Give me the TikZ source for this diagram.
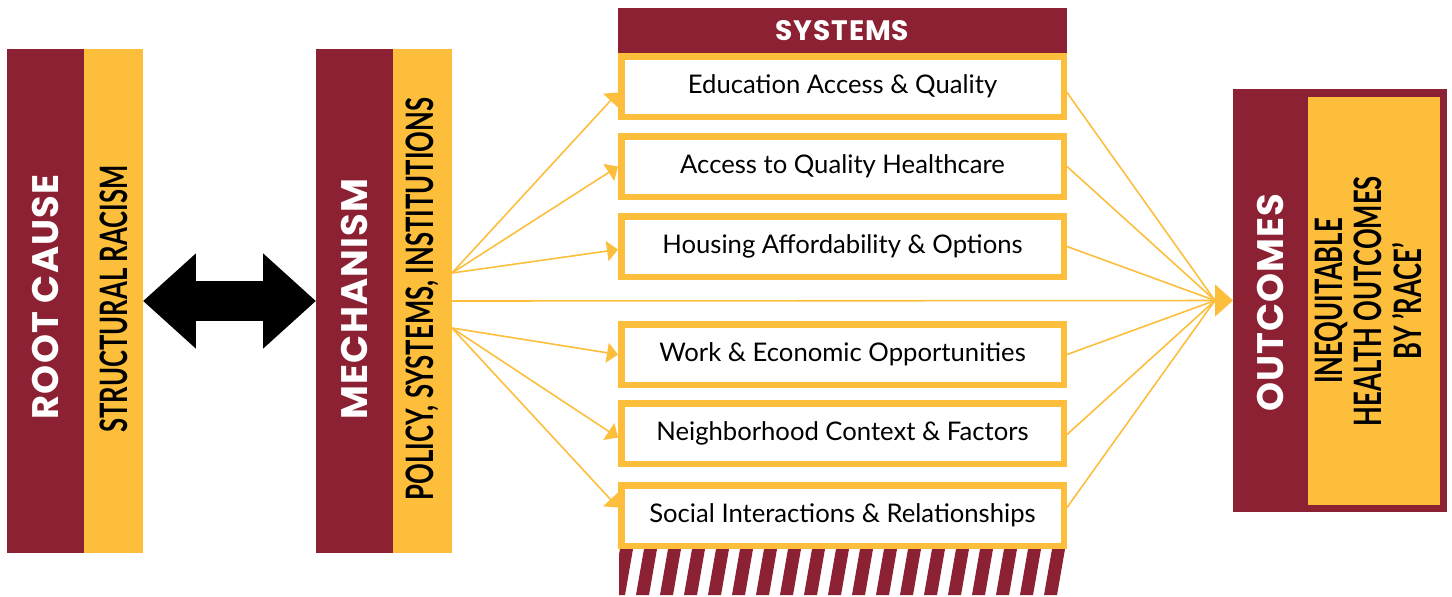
\documentclass[tikz,border=0pt]{standalone}
\usepackage{fontspec}
\setmainfont{Lato}
\newfontfamily\headfont{Poppins}[LetterSpace=3]
\newfontfamily\narrowfont{Lato}[FakeStretch=0.68]
\usetikzlibrary{positioning,calc,arrows.meta}

\definecolor{maroon}{HTML}{8B2132}
\definecolor{gold}{HTML}{FDBE3B}
\def\pxu{0.02cm}

\tikzset{
  redbar/.style={fill=maroon, inner sep=0pt, outer sep=0pt, text=white,
    font=\headfont\bfseries\fontsize{21}{25}\selectfont},
  goldbar/.style={fill=gold, inner sep=0pt, outer sep=0pt,
    font=\narrowfont\bfseries\fontsize{21.5}{23}\selectfont},
  sysbox/.style={draw=gold, line width=6.5*\pxu, fill=white,
    minimum width=442.5*\pxu, minimum height=60.5*\pxu,
    font=\fontsize{14.6}{17}\selectfont},
  feed/.style={draw=gold, line width=0.9pt},
}

\begin{document}
\begin{tikzpicture}[x=\pxu, y=-\pxu]
\useasboundingbox (0,0) rectangle (1452,596);

% root cause and mechanism columns
\node[redbar, minimum width=77*\pxu, minimum height=504*\pxu] (rc) at (45.5,301) {};
\node[goldbar, right=0pt of rc, minimum width=59*\pxu, minimum height=504*\pxu] (sr) {};
\node[redbar, minimum width=77*\pxu, minimum height=504*\pxu] (mech) at (354.5,301) {};
\node[goldbar, right=0pt of mech, minimum width=59*\pxu, minimum height=504*\pxu] (psi) {};

\node[redbar] at ($(rc)+(0,-4)$) {\rotatebox{90}{ROOT CAUSE}};
\node[goldbar, fill=none] at ($(sr)+(0,-2)$) {\rotatebox{90}{STRUCTURAL RACISM}};
\node[redbar] at ($(mech)+(0,-2)$) {\rotatebox{90}{MECHANISM}};
\node[goldbar, fill=none] at ($(psi)+(0,-2)$) {\rotatebox{90}{POLICY, SYSTEMS, INSTITUTIONS}};

\draw[line width=0.8cm, {Triangle[length=1.06cm,width=1.84cm]}-{Triangle[length=1.06cm,width=1.84cm]}]
  (sr.east) -- (mech.west);

% systems
\node[redbar, minimum width=449*\pxu, minimum height=45*\pxu,
  font=\headfont\bfseries\fontsize{16}{18}\selectfont] (hdr) at (842.5,30.5) {SYSTEMS};
\node[sysbox] (b1) at (842.5,86.5)  {Education Access \& Quality};
\node[sysbox] (b2) at (842.5,166.5) {Access to Quality Healthcare};
\node[sysbox] (b3) at (842.5,246.5) {Housing Affordability \& Options};
\node[sysbox] (b4) at (842.5,354.5) {Work \& Economic Opportunities};
\node[sysbox] (b5) at (842.5,433.5) {Neighborhood Context \& Factors};
\node[sysbox] (b6) at (842.5,515.5) {Social Interactions \& Relationships};

\begin{scope}
  \clip (619,549) rectangle (1066,595);
  \foreach \k in {0,...,19}
    \fill[maroon] ({612+24*\k+8},549) -- ({612+24*\k+21},549)
      -- ({612+24*\k+13},595) -- ({612+24*\k},595) -- cycle;
\end{scope}

% outcomes
\node[fill=maroon, inner sep=0pt, outer sep=0pt,
  minimum width=214*\pxu, minimum height=423*\pxu] (out) at (1340,300.5) {};
\node[goldbar, minimum width=132*\pxu, minimum height=408*\pxu,
  font=\narrowfont\bfseries\fontsize{21.5}{21.5}\selectfont] (ineq) at (1374,301)
  {\rotatebox{90}{\begin{tabular}{@{}c@{}}INEQUITABLE\\HEALTH OUTCOMES\\BY ’RACE’\end{tabular}}};
\node[redbar, fill=none] (outlbl) at ($(out.west)+(37.5,2)$) {\rotatebox{90}{OUTCOMES}};

% feeds
\coordinate (fanU) at ($(psi.east)+(0,-28)$);
\coordinate (fanD) at ($(psi.east)+(0,27)$);
\coordinate (hub) at ($(out.west)+(-18,0)$);
\foreach \i/\d in {1/6,2/0,3/3}
  \draw[feed, -{Triangle[length=0.22cm,width=0.4cm]}] (fanU) -- ($(b\i.west)+(0,\d)$);
\foreach \i/\d in {4/0,5/4,6/-8}
  \draw[feed, -{Triangle[length=0.22cm,width=0.4cm]}] (fanD) -- ($(b\i.west)+(0,\d)$);
\foreach \i/\d in {1/6,2/0,3/0,4/0,5/1,6/-8}
  \draw[feed] ($(b\i.east)+(0,\d)$) -- (hub);
\draw[feed, -{Triangle[length=0.36cm,width=0.64cm]}] (psi.east) -- (out.west);
\end{tikzpicture}
\end{document}
